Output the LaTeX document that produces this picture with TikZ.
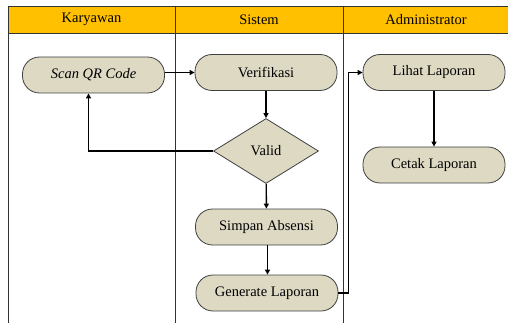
\documentclass[tikz,border=0pt]{standalone}
\usepackage{fontspec}
\setmainfont{Liberation Serif}
\usetikzlibrary{arrows.meta,positioning,calc,shapes.geometric}

\definecolor{laneorange}{HTML}{FFC000}
\definecolor{boxtan}{HTML}{DDD9C3}

\begin{document}
\begin{tikzpicture}[
    x=1pt, y=-1pt,
    node font=\fontsize{14.5}{17}\selectfont,
    >={Triangle[length=5pt, width=5pt]},
    act box/.style={rounded corners=17pt, draw=black!75, fill=boxtan, line width=0.8pt, minimum width=142pt, minimum height=36pt, inner sep=2pt},
    dec box/.style={diamond, draw=black!75, fill=boxtan, line width=0.8pt, minimum width=105pt, minimum height=65pt, inner sep=0pt},
    flow/.style={->, line width=1.4pt},
    lane line/.style={line width=0.6pt, black!80},
]

\useasboundingbox (0,0) rectangle (508,323);

% Header
\fill[laneorange] (8,6) rectangle (508,33);
\draw[lane line] (508,6) -- (8,6) -- (8,323);
\draw[lane line] (8,33) -- (508,33);
\draw[lane line] (175,6) -- (175,323);
\draw[lane line] (343,6) -- (343,323);

\node (h1) at (91.5,19.5) {Karyawan};
\node (h2) at (259,19.5) {Sistem};
\node (h3) at (426,19.5) {Administrator};

% Nodes
\node[act box] (scan) at (93.5,75) {\itshape Scan QR Code};
\node[act box] (verif) at (266,72.5) {Verifikasi};
\node[dec box] (valid) at (266,151) {Valid};
\node[act box] (simpan) at (266.5,227) {Simpan Absensi};
\node[act box] (gen) at (267,293) {Generate Laporan};
\node[act box] (lihat) at (434,72.5) {Lihat Laporan};
\node[act box] (cetak) at (434,165) {Cetak Laporan};

% Connectors
\draw[flow] (scan.east |- verif.west) -- (verif.west);
\draw[flow] (verif) -- (valid);
\draw[flow] (valid.west) -| ([xshift=-5pt]scan.south);
\draw[flow] (valid) -- (simpan);
\draw[flow] ([xshift=1pt]simpan.south) -- ([xshift=0.5pt]gen.north);
\draw[flow] (gen.east) -- ++(10,0) |- (lihat.west);
\draw[flow] (lihat) -- (cetak);

\end{tikzpicture}
\end{document}
